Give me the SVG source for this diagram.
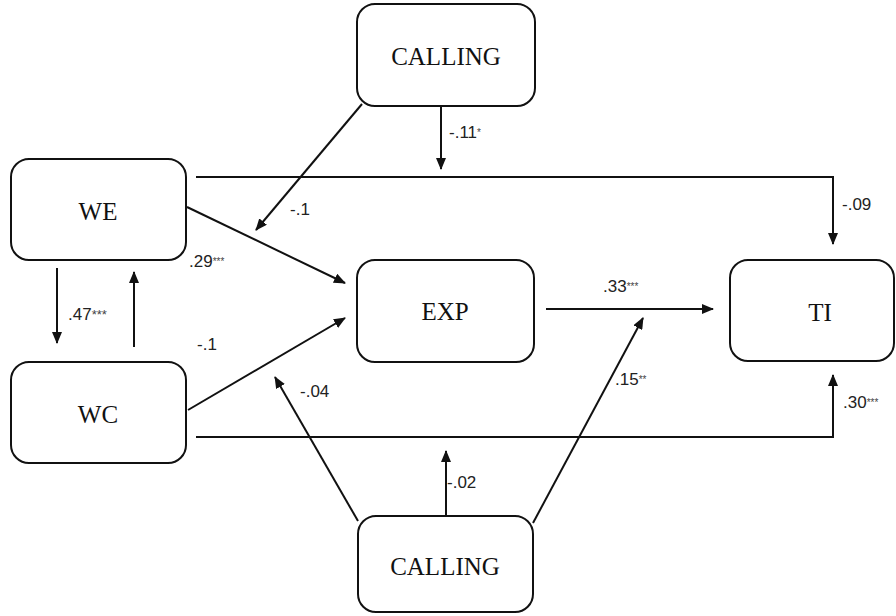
<svg xmlns="http://www.w3.org/2000/svg" width="896" height="616" viewBox="0 0 896 616">
  <style>
    .box { fill: #ffffff; stroke: #111111; stroke-width: 2; }
    .name { font-family: "Liberation Serif", "Times New Roman", serif; font-size: 25px; fill: #111111; text-anchor: middle; }
    .edge { fill: none; stroke: #111111; stroke-width: 2; }
    .coef { font-family: "Liberation Sans", Arial, sans-serif; font-size: 17px; fill: #222222; }
    .sig { font-size: 10px; fill: #444444; }
    .sig-lg { font-size: 13px; fill: #444444; }
  </style>
  <defs>
    <marker id="arrow" markerUnits="userSpaceOnUse" markerWidth="12" markerHeight="10" viewBox="0 0 12 10" refX="11" refY="5" orient="auto">
      <path d="M0,0 L12,5 L0,10 Z" fill="#111111"/>
    </marker>
  </defs>

  <rect width="896" height="616" fill="#ffffff"/>

  <!-- connectors -->
  <g id="connectors">
    <line class="edge" x1="441" y1="106" x2="441" y2="169" marker-end="url(#arrow)"/>
    <line class="edge" x1="362" y1="104" x2="256" y2="230" marker-end="url(#arrow)"/>
    <path class="edge" d="M196,177 H833 V244" marker-end="url(#arrow)"/>
    <line class="edge" x1="187" y1="207" x2="345" y2="283" marker-end="url(#arrow)"/>
    <line class="edge" x1="57" y1="268" x2="57" y2="343" marker-end="url(#arrow)"/>
    <line class="edge" x1="134" y1="347" x2="134" y2="272" marker-end="url(#arrow)"/>
    <line class="edge" x1="188" y1="410" x2="345" y2="318" marker-end="url(#arrow)"/>
    <line class="edge" x1="546" y1="309" x2="713" y2="309" marker-end="url(#arrow)"/>
    <path class="edge" d="M196,437 H833 V375" marker-end="url(#arrow)"/>
    <line class="edge" x1="358" y1="521" x2="275" y2="377" marker-end="url(#arrow)"/>
    <line class="edge" x1="446" y1="516" x2="446" y2="451" marker-end="url(#arrow)"/>
    <line class="edge" x1="533" y1="523" x2="643" y2="318" marker-end="url(#arrow)"/>

    <!-- path coefficients -->
    <text class="coef" x="449" y="138">-.11<tspan class="sig" dy="-2">*</tspan></text>
    <text class="coef" x="290" y="215">-.1</text>
    <text class="coef" x="842" y="210">-.09</text>
    <text class="coef" x="189" y="267">.29<tspan class="sig" dy="-2">***</tspan></text>
    <text class="coef" x="68" y="320">.47<tspan class="sig-lg" dy="-1">***</tspan></text>
    <text class="coef" x="197" y="350">-.1</text>
    <text class="coef" x="603" y="292">.33<tspan class="sig" dy="-2">***</tspan></text>
    <text class="coef" x="300" y="397">-.04</text>
    <text class="coef" x="615" y="385">.15<tspan class="sig" dy="-2">**</tspan></text>
    <text class="coef" x="843" y="408">.30<tspan class="sig" dy="-2">***</tspan></text>
    <text class="coef" x="447" y="488">-.02</text>
  </g>

  <!-- nodes -->
  <g id="calling-top">
    <rect class="box" x="357" y="4" width="178" height="102" rx="18"/>
    <text class="name" x="446" y="65">CALLING</text>
  </g>
  <g id="we">
    <rect class="box" x="11" y="159" width="175" height="101" rx="18"/>
    <text class="name" x="98" y="220">WE</text>
  </g>
  <g id="wc">
    <rect class="box" x="11" y="362" width="175" height="101" rx="18"/>
    <text class="name" x="98" y="423">WC</text>
  </g>
  <g id="exp">
    <rect class="box" x="357" y="260" width="177" height="102" rx="18"/>
    <text class="name" x="445" y="320">EXP</text>
  </g>
  <g id="ti">
    <rect class="box" x="730" y="260" width="164" height="101" rx="18"/>
    <text class="name" x="820" y="321">TI</text>
  </g>
  <g id="calling-bottom">
    <rect class="box" x="358" y="516" width="175" height="96" rx="18"/>
    <text class="name" x="445" y="575">CALLING</text>
  </g>
</svg>
